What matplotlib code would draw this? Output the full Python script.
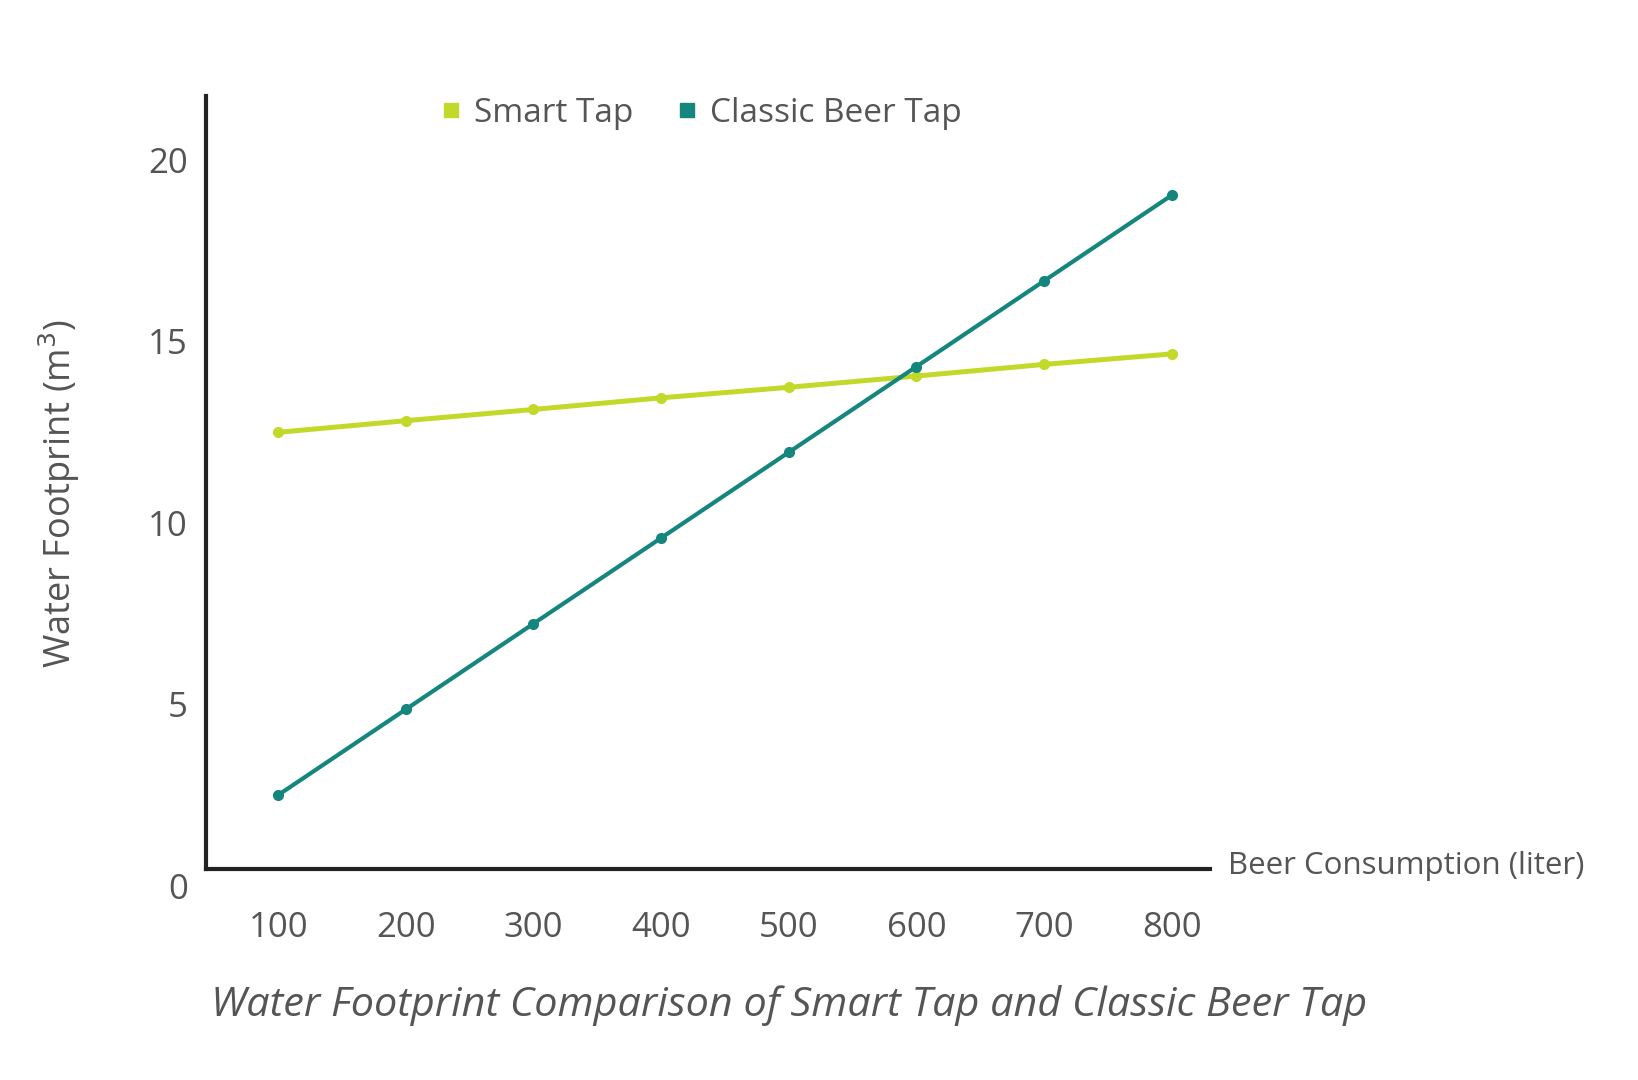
import matplotlib
matplotlib.use("Agg")
import matplotlib.pyplot as plt
from matplotlib.lines import Line2D

plt.rcParams['font.family'] = ['Open Sans', 'DejaVu Sans']

consumption = [100, 200, 300, 400, 500, 600, 700, 800]
smart_tap = [12.49, 12.81, 13.12, 13.44, 13.73, 14.04, 14.36, 14.65]
classic_tap = [2.50, 4.86, 7.22, 9.58, 11.94, 14.30, 16.66, 19.02]
y_ticks = [0, 5, 10, 15, 20]
x_ticks = [100, 200, 300, 400, 500, 600, 700, 800]

LIME = "#c3d92a"
TEAL = "#14867d"
TXT = "#555555"

fig = plt.figure(figsize=(16.38, 10.8), dpi=100)
ax = fig.add_axes([0.1258, 0.163, 0.6129, 0.748])

ax.plot(consumption, smart_tap, color=LIME, lw=3.6, marker='o', ms=7,
        solid_capstyle='round', zorder=3)
ax.plot(consumption, classic_tap, color=TEAL, lw=3.0, marker='o', ms=7,
        solid_capstyle='round', zorder=4)

ax.set_xlim(43.5, 830)
ax.set_ylim(-0.5, 21.75)

for s in ['top', 'right']:
    ax.spines[s].set_visible(False)
ax.spines['bottom'].set_position(('data', 0.45))
ax.spines['left'].set_bounds(0.45, 21.75)
for s in ['left', 'bottom']:
    ax.spines[s].set_linewidth(3)
    ax.spines[s].set_color('#222222')

ax.set_yticks(y_ticks)
ax.set_xticks(x_ticks)
ax.tick_params(axis='y', length=0, pad=13, labelsize=25, labelcolor=TXT)
ax.tick_params(axis='x', length=0, pad=30, labelsize=25, labelcolor=TXT)

fig.text(0.7497, 0.198, "Beer Consumption (liter)", fontsize=22.5, color=TXT,
         ha='left', va='center')
fig.text(0.036, 0.543, "Water Footprint (m$^3$)", fontsize=26, color=TXT,
         rotation=90, ha='center', va='center')
fig.text(0.129, 0.069, "Water Footprint Comparison of Smart Tap and Classic Beer Tap",
         fontsize=29.8, color=TXT, style='italic', ha='left', va='center')

handles = [Line2D([], [], color=LIME, marker='s', ls='none', ms=10),
           Line2D([], [], color=TEAL, marker='s', ls='none', ms=10)]
fig.legend(handles, ["Smart Tap", "Classic Beer Tap"], loc='center left',
           bbox_to_anchor=(0.2466, 0.895), ncol=2, frameon=False, fontsize=24,
           labelcolor=TXT, handletextpad=0.2, columnspacing=1.1, handlelength=1.0)

fig.savefig("out.png", dpi=100, facecolor='white')
